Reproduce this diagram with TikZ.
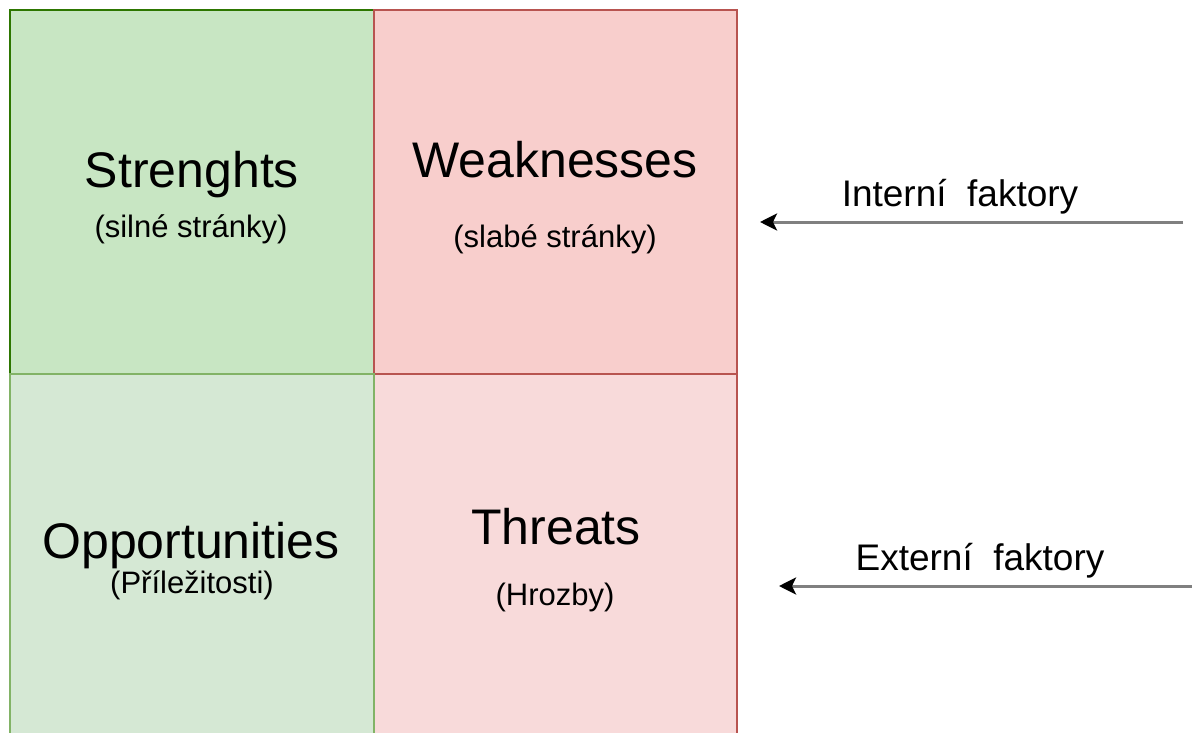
\documentclass[tikz,border=0pt]{standalone}
\usepackage{fontspec}
\setmainfont{Liberation Sans}
\usetikzlibrary{arrows.meta}
\definecolor{sfill}{HTML}{C8E6C3}
\definecolor{sdraw}{HTML}{2D7600}
\definecolor{ofill}{HTML}{D5E8D4}
\definecolor{odraw}{HTML}{82B366}
\definecolor{wfill}{HTML}{F8CECC}
\definecolor{wdraw}{HTML}{B85450}
\definecolor{tfill}{HTML}{F8DADA}
\definecolor{arrgray}{HTML}{808080}
\tikzset{
  big/.style={anchor=base, inner sep=0pt, font=\fontsize{50}{58}\selectfont},
  small/.style={anchor=base, inner sep=0pt, font=\fontsize{31}{38}\selectfont},
  side/.style={anchor=base, inner sep=0pt, font=\fontsize{37}{44}\selectfont},
  quad/.style={line width=2.5pt},
  factor/.style={draw=arrgray, line width=3pt, -{Stealth[length=17pt,width=17pt,inset=4pt,fill=black,color=black]}}
}
\begin{document}
\begin{tikzpicture}[x=1pt,y=-1pt]
\useasboundingbox (0,0) rectangle (1192,733);
\clip (0,0) rectangle (1192,733);
\fill[white] (0,0) rectangle (1192,733);
% quadrants
\filldraw[quad, fill=sfill, draw=sdraw] (10,10) rectangle (374,374);
\filldraw[quad, fill=wfill, draw=wdraw] (374,10) rectangle (737,374);
\filldraw[quad, fill=tfill, draw=wdraw] (374,374) rectangle (737,745);
\filldraw[quad, fill=ofill, draw=odraw] (10,374) rectangle (374,745);
% texts
\node[big] (s) at (192,188) {Strenghts};
\node[small] (s2) at (191,237) {(silné stránky)};
\node[big] (w) at (555,178) {Weaknesses};
\node[small] (w2) at (555,247) {(slabé stránky)};
\node[big] (o) at (191,558) {Opportunities};
\node[small] (o2) at (192,593) {(Příležitosti)};
\node[big] (t) at (556,544) {Threats};
\node[small] (t2) at (555,605) {(Hrozby)};
% side factors
\node[side] (int) at (960,206) {Interní\ \ faktory};
\node[side] (ext) at (980,570) {Externí\ \ faktory};
\coordinate (intS) at (1183,222);
\coordinate (intE) at (760,222);
\coordinate (extS) at (1195,586);
\coordinate (extE) at (779,586);
\draw[factor] (intS) -- (intE);
\draw[factor] (extS) -- (extE);
\end{tikzpicture}
\end{document}
